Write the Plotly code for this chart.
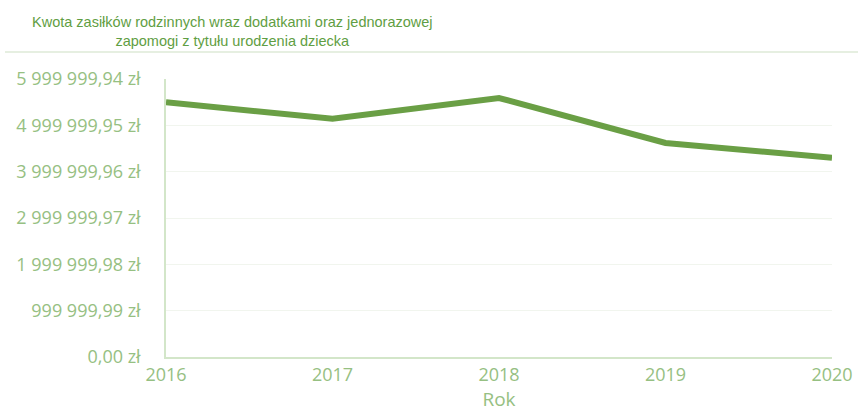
import plotly.graph_objects as go

years = [2016, 2017, 2018, 2019, 2020]
amounts = [5500000, 5140000, 5590000, 4620000, 4300000]
y_ticks = [0.00, 999999.99, 1999999.98, 2999999.97, 3999999.96, 4999999.95, 5999999.94]
y_tick_labels = ["0,00 zł", "999 999,99 zł", "1 999 999,98 zł", "2 999 999,97 zł",
                 "3 999 999,96 zł", "4 999 999,95 zł", "5 999 999,94 zł"]
title_text = "Kwota zasiłków rodzinnych wraz dodatkami oraz jednorazowej<br>zapomogi z tytułu urodzenia dziecka"
x_title = "Rok"

fig = go.Figure()
fig.add_trace(go.Scatter(x=years, y=amounts, mode="lines",
                         line=dict(color="#6a9f45", width=6), hoverinfo="skip"))

tick_font = dict(family="Open Sans, sans-serif", size=18, color="#96c082")

fig.update_layout(
    width=858, height=412,
    margin=dict(l=166, r=26, t=79, b=55),
    paper_bgcolor="white", plot_bgcolor="white",
    showlegend=False,
    xaxis=dict(range=[2016, 2020], tickvals=years, ticktext=[str(y) for y in years],
               automargin=False,
               showgrid=False, showline=True, linecolor="#d3e6c9", linewidth=1.5,
               ticks="outside", ticklen=1, tickcolor="rgba(0,0,0,0)",
               tickfont=tick_font, zeroline=False,
               title=dict(text=x_title, font=dict(family="Open Sans, sans-serif", size=19, color="#96c082"), standoff=7)),
    yaxis=dict(range=[0, 5999999.94], tickvals=y_ticks, ticktext=y_tick_labels,
               automargin=False,
               showgrid=True, gridcolor="#f1f5ee", gridwidth=1,
               showline=True, linecolor="#d3e6c9", linewidth=1.5,
               ticks="outside", ticklen=20, tickcolor="rgba(0,0,0,0)",
               tickfont=tick_font, zeroline=False),
    annotations=[dict(text=title_text, xref="paper", yref="paper",
                      x=(232 - 166) / (858 - 166 - 26), y=1, yshift=79 - 31,
                      xanchor="center", yanchor="middle", showarrow=False, align="center",
                      font=dict(family="Liberation Sans, Arial, sans-serif", size=14.5, color="#5f9e43"))],
)
fig.add_shape(type="line", xref="paper", yref="paper", x0=-161/666, x1=1 + 26/666,
              y0=1 + 27/278, y1=1 + 27/278, line=dict(color="#e6efe1", width=2))

fig.write_html("out.html", config={"displayModeBar": False},
               post_script=("document.documentElement.style.overflow='hidden';"
                            "document.body.style.overflow='hidden';"
                            "document.body.style.margin='0';document.body.style.padding='0';"))
